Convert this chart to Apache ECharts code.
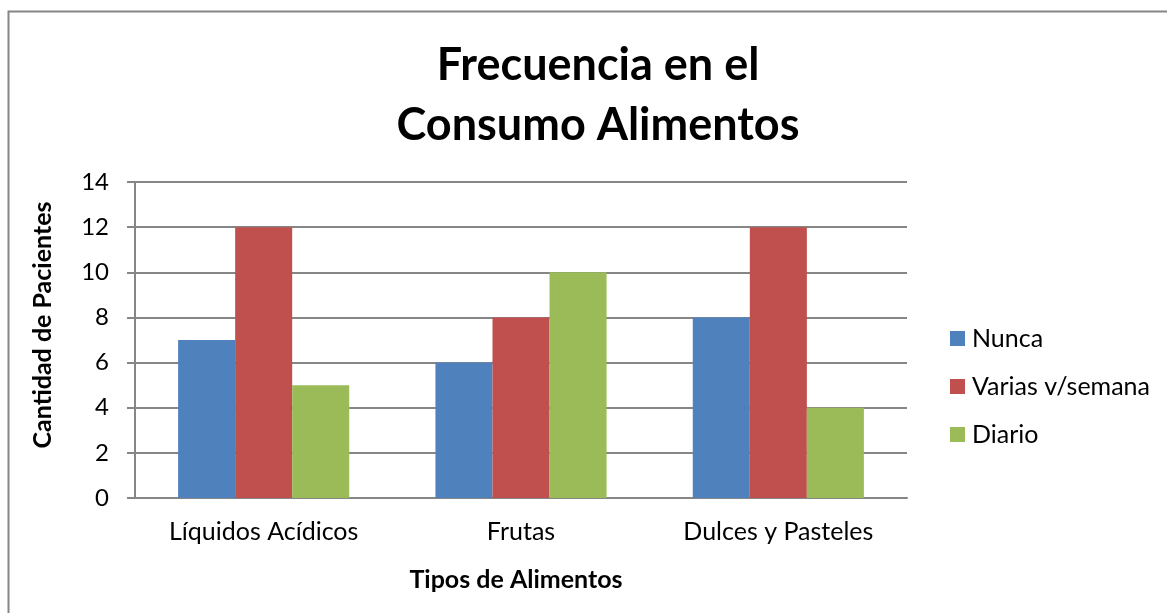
<!DOCTYPE html>
<html>
<head>
<meta charset="utf-8">
<script src="https://cdn.jsdelivr.net/npm/echarts@6/dist/echarts.min.js"></script>
<style>
html,body{margin:0;padding:0;background:#fff;}
#chart{width:1167px;height:613px;}
</style>
</head>
<body>
<div id="chart"></div>
<script>
var titleText = "Frecuencia en el\nConsumo Alimentos";
var categories = ["Líquidos Acídicos", "Frutas", "Dulces y Pasteles"];
var seriesNames = ["Nunca", "Varias v/semana", "Diario"];
var nunca = [7, 6, 8];
var varias = [12, 8, 12];
var diario = [5, 10, 4];
var yTicks = [0, 2, 4, 6, 8, 10, 12, 14];
var xAxisName = "Tipos de Alimentos";
var yAxisName = "Cantidad de Pacientes";

var colors = ["#4F81BD", "#C0504D", "#9BBB59"];
var font = "Lato, 'Liberation Sans', sans-serif";
var values = [nunca, varias, diario];

var chart = echarts.init(document.getElementById('chart'), null, {renderer: 'canvas'});
chart.setOption({
  animation: false,
  textStyle: {fontFamily: font, color: '#000'},
  graphic: [{
    type: 'rect',
    shape: {x: 8.5, y: 11.5, width: 1300, height: 800},
    style: {fill: 'none', stroke: '#868686', lineWidth: 2}
  }],
  title: {
    text: titleText,
    left: 593, top: 30,
    textAlign: 'center',
    textStyle: {fontFamily: font, fontSize: 45, fontWeight: 'bold', lineHeight: 60, color: '#000'}
  },
  legend: {
    orient: 'vertical',
    left: 950, top: 326,
    padding: 0,
    itemWidth: 15, itemHeight: 15, itemGap: 23,
    icon: 'rect',
    data: seriesNames,
    textStyle: {fontFamily: font, fontSize: 25, lineHeight: 25, color: '#000', padding: [0, 0, 0, 2]}
  },
  grid: {left: 135, right: 260, top: 182, bottom: 115, containLabel: false},
  xAxis: {
    type: 'category',
    data: categories,
    name: xAxisName,
    nameLocation: 'middle',
    nameGap: 69,
    nameTextStyle: {fontFamily: font, fontSize: 25, fontWeight: 'bold', color: '#000', padding: [0, 10, 0, 0]},
    axisLine: {lineStyle: {color: '#868686', width: 2}},
    axisTick: {show: false},
    axisLabel: {fontFamily: font, fontSize: 25, color: '#000', margin: 21}
  },
  yAxis: {
    type: 'value',
    min: 0, max: 14, interval: 2,
    name: yAxisName,
    nameLocation: 'middle',
    nameGap: 80,
    nameRotate: 90,
    nameTextStyle: {fontFamily: font, fontSize: 25, fontWeight: 'bold', color: '#000', padding: [0, 0, 0, 30]},
    axisLine: {show: true, lineStyle: {color: '#868686', width: 2}},
    axisTick: {show: true, length: 8, lineStyle: {color: '#868686', width: 2}},
    axisLabel: {fontFamily: font, fontSize: 24, color: '#000', margin: 26,
      formatter: function (v) { return yTicks.indexOf(v) >= 0 ? String(v) : ''; }},
    splitLine: {show: true, lineStyle: {color: '#868686', width: 2}}
  },
  series: seriesNames.map(function (n, i) {
    return {
      name: n, type: 'bar', data: values[i],
      barGap: '0%', barCategoryGap: '33.5%',
      itemStyle: {color: colors[i]}
    };
  })
});
</script>
</body>
</html>
